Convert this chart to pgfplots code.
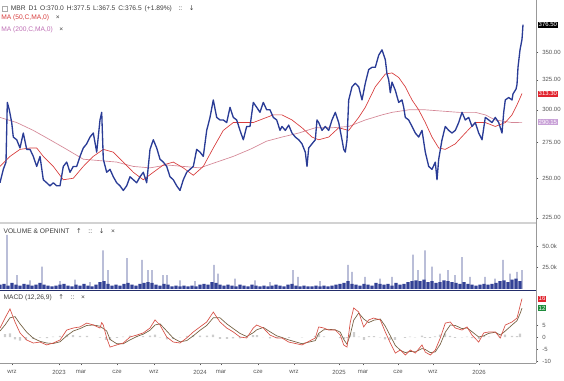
\documentclass[border=0pt]{standalone}
\usepackage{pgfplots}
\pgfplotsset{compat=1.18}
\usepackage{fontspec}
\setmainfont{Liberation Sans}
\newfontfamily\symfont{DejaVu Sans}
\definecolor{pblue}{RGB}{42,60,150}
\definecolor{ma50}{RGB}{215,60,60}
\definecolor{ma200}{RGB}{212,135,150}
\definecolor{ma200txt}{RGB}{190,110,180}
\definecolor{labgray}{RGB}{85,85,85}
\definecolor{hdgray}{RGB}{60,60,60}
\definecolor{sepgray}{RGB}{210,210,210}
\definecolor{volblue}{RGB}{50,65,150}
\definecolor{volspike}{RGB}{60,72,145}
\definecolor{macdred}{RGB}{215,80,70}
\definecolor{macdsig}{RGB}{115,95,65}
\definecolor{histgray}{RGB}{205,205,205}
\definecolor{boxpurple}{RGB}{200,160,215}
\definecolor{boxred}{RGB}{225,35,45}
\definecolor{boxgreen}{RGB}{30,140,60}
\newcommand\tk{\fontsize{4.5}{5}\selectfont}
\newcommand\hd{\fontsize{5}{6}\selectfont}
\pgfplotsset{
  panel/.style={scale only axis, width=402pt, xmin=0, xmax=536, clip=false,
    anchor=south west, axis line style={draw=none}, xtick=\empty,
    ytick pos=right, yticklabel pos=right, tick align=outside,
    major tick length=1.8pt, tick style={labgray, line width=0.35pt},
    yticklabel style={font=\tk, text=labgray, xshift=-0.6pt}},
}
\begin{document}
\begin{tikzpicture}[x=1pt,y=1pt]
\useasboundingbox (0,0) rectangle (423,285);
% ---------------- price panel
\begin{axis}[panel, at={(0pt,118.5pt)}, height=166.5pt, ymode=log, ymin=222.5, ymax=402,
  ytick={225,250,275,300,325,350}, yticklabels={225.00,250.00,275.00,300.00,325.00,350.00}]
\addplot[ma200, line width=0.5pt] table {
0 294
16.7 290
33.3 284
50 277
66.7 270
83.3 263
100 262
116.7 261
133.3 258
150 257
166.7 259
183.3 258
200 257
216.7 261
233.3 265
250 270
266.7 276
282 279
298.7 282
315.3 286
332 286
348.7 287
365.3 292
382 296
392 298
408.7 300
425.3 300
442 299
458.7 298
475.3 298
485.3 296
495.3 292
512 290
522 290.15
};
\addplot[ma50, line width=0.5pt] table {
0 258
10 265
20 270
30 271
36.7 271
43.3 265
53.3 258
63.3 249
73.3 250
83.3 258
93.3 265
103.3 270
113.3 268
123.3 261
133.3 254
143.3 249
153.3 254
163.3 259
173.3 261
183.3 257
193.3 252
203.3 258
213.3 271
223.3 284
233.3 290
243.3 290
253.3 290
263.3 293
273.3 296
282 296
292 292
302 286
312 279
318.7 277
328.7 279
338.7 286
348.7 284
358.7 294
365.3 302
375.3 319
385.3 330
392 331
398.7 327
405.3 319
412 308
418.7 300
425.3 290
432 279
438.7 271
445.3 270
455.3 274
465.3 282
475.3 290
485.3 290
495.3 287
505.3 290
512 296
517 304
522 313.3
};
\addplot[pblue, line width=1.0pt, line join=round] table {
0 247
3.3 256
6 261
7.3 306
9.3 300
11.7 290
13.3 279
16.7 277
20 271
23.3 282
26.7 270
30 270
33.3 265
36.7 258
40 265
43.3 249
46.7 247
50 245
53.3 247
56.7 245
60 245
63.3 258
66.7 261
70 254
73.3 258
76.7 258
80 265
83.3 271
86.7 274
90 279
93.3 282
96.7 268
100 292
101.7 298
103.3 263
106.7 254
110 256
113.3 251
116.7 247
120 245
123.3 242
126.7 245
130 251
133.3 249
136.7 247
140 251
143.3 254
146.7 247
150 270
153.3 277
156.7 271
160 263
163.3 261
166.7 258
170 251
173.3 249
176.7 245
180 242
183.3 249
186.7 254
190 256
193.3 258
196.7 270
200 268
203.3 265
206.7 284
210 294
213.3 308
216.7 294
220 292
223.3 292
226.7 290
230 302
233.3 294
236.7 292
240 284
243.3 277
246.7 287
250 287
253.3 306
256.7 302
260 298
263.3 306
266.7 300
270 300
273.3 294
276.7 292
280 284
282 287
285.3 284
288.7 288
292 282
295.3 279
298.7 277
302 274
305.3 268
307 258
308.7 271
312 274
315.3 277
317 292
318.7 290
322 284
325.3 287
328.7 284
332 292
335.3 298
338.7 290
342 277
343.7 270
345.3 268
347 277
348.7 308
352 319
355.3 322
358.7 319
362 308
365.3 322
368.7 334
372 336
375.3 336
378.7 347
382 352
385.3 343
387 330
388.7 325
390.3 314
392 323
395.3 316
398.7 306
402 308
403.7 302
405.3 294
408.7 292
412 287
415.3 282
418.7 279
422 284
425.3 268
428.7 258
432 256
435.3 261
437 249
438.7 263
442 277
445.3 287
448.7 284
452 282
455.3 284
458.7 290
462 298
465.3 292
468.7 294
472 287
475.3 290
478.7 282
482 277
485.3 294
488.7 292
492 290
495.3 294
498.7 290
502 282
503.7 298
505.3 308
508.7 310
512 308
513 313
516 317
517 321
518 336
520 352
522 362
523 376.5
};
\node[anchor=west, fill=black, text=white, font=\tk, inner sep=0.7pt] at (axis cs:537.5,376.5) {376.50};
\node[anchor=west, fill=boxred, text=white, font=\tk, inner sep=0.7pt] at (axis cs:537.5,313.3) {313.30};
\node[anchor=west, fill=boxpurple, text=white, font=\tk, inner sep=0.7pt] at (axis cs:537.5,290.15) {290.15};
\end{axis}
% ---------------- volume panel
\begin{axis}[panel, at={(0pt,67.5pt)}, height=51pt, ymin=-1.2, ymax=78,
  ytick={25,50}, yticklabels={25.0k,50.0k}]
\addplot[ybar, bar shift=0pt, bar width=2.4pt, fill=volblue, draw=none] table {
0 5
4 6
8 4
12 7
16 5
20 4
24 6
28 5
32 4
36 5
40 7
44 5
48 4
52 3
56 4
60 5
64 6
68 4
72 3
76 5
80 4
84 6
88 4
92 3
96 5
100 8
104 9
108 6
112 4
116 5
120 4
124 6
128 7
132 5
136 4
140 6
144 7
148 8
152 7
156 5
160 4
164 6
168 5
172 3
176 4
180 3
184 4
188 3
192 4
196 3
200 5
204 6
208 5
212 8
216 7
220 5
224 4
228 5
232 4
236 3
240 5
244 4
248 3
252 5
256 4
260 3
264 4
268 3
272 4
276 5
280 4
284 3
288 5
292 6
296 4
300 3
304 4
308 3
312 3
316 4
320 3
324 4
328 3
332 4
336 5
340 6
344 7
348 9
352 6
356 5
360 4
364 6
368 5
372 4
376 7
380 6
384 5
388 6
392 4
396 7
400 5
404 6
408 8
412 9
416 10
420 9
424 11
428 8
432 9
436 7
440 8
444 10
448 9
452 8
456 7
460 6
464 8
468 6
472 5
476 4
480 5
484 6
488 5
492 6
496 7
500 9
504 10
508 8
512 11
516 12
520 9
};
\addplot[ybar, bar shift=0pt, bar width=0.6pt, fill=volspike, draw=none] table {
7 63
17 16
30 10
42 26
60 9
75 11
90 8
103 45
108 22
127 36
142 34
148 22
152 22
163 16
167 16
180 10
195 9
214 28
218 18
235 12
255 10
270 8
293 22
298 14
320 9
348 28
352 20
365 14
380 12
392 14
413 40
418 22
425 45
432 26
440 18
448 22
455 16
462 37
470 14
485 14
495 12
503 34
510 18
517 20
522 22
};
\end{axis}
% ---------------- MACD panel
\begin{axis}[panel, at={(0pt,12.75pt)}, height=54.75pt, ymin=-10.83, ymax=19.58,
  ytick={-10,-5,0,5}, yticklabels={-10,-5,0,5},
  xtick={12,59,81,117,154,200,221,258,294,339,363,398,433,479},
  xticklabels={wrz,2023,mar,cze,wrz,2024,mar,cze,wrz,2025,mar,cze,wrz,2026},
  xtick pos=bottom, xticklabel style={font=\tk, text=labgray, yshift=0pt}]
\addplot[ybar, bar shift=0pt, bar width=1.6pt, fill=histgray, draw=none] table {
5 1.2
10 1.5
15 -1
20 -1.5
26 -1.2
33 -0.8
40 -0.3
47 -0.5
53 0.2
60 0.5
67 1.0
73 0.8
80 0.5
87 0.5
100 -0.3
106 -1.2
110 -1.3
117 -0.4
123 0.2
130 0.6
137 0.5
143 0.4
150 0.6
155 1.0
160 -0.2
167 -1.0
173 -0.8
180 -0.2
187 0.5
193 0.7
200 0.6
207 0.6
213 1.0
220 -0.8
227 -0.8
233 -0.6
240 -0.6
247 -0.3
253 0.8
257 0.8
263 -0.1
270 -0.6
277 -0.4
289 -0.4
302 -0.2
315 0.5
319 1.2
324 0.3
340 -0.5
344 -1.0
347 -0.5
350 1.2
354 2.0
359 0.2
364 -1.2
369 0.4
374 0.4
380 -0.2
385 -1.0
390 -1.2
395 -1.2
405 -0.4
410 0.2
415 -0.2
422 0.6
425 -0.4
430 -0.4
435 0.3
440 1.0
445 1.5
450 0.5
455 -0.4
462 -0.2
467 0.2
472 -0.5
479 -0.8
484 0.5
489 0.2
500 -0.5
505 1.0
512 0.5
517 0.4
520 1.4
};
\addplot[macdsig, line width=0.5pt] table {
0 2.5
5 5.0
10 8.0
15 8.5
20 5.5
26.7 2.0
33.3 -0.5
40 -1.8
46.7 -2.5
53.3 -2.7
60 -2.0
66.7 0.5
73.3 2.5
80 3.5
86.7 4.8
93.3 5.0
100 4.5
106.7 2.5
110 -1.0
116.7 -2.8
123.3 -2.8
130 -1.2
136.7 0.2
143.3 1.2
150 2.8
155 5.0
160 5.5
166.7 2.5
173.3 -0.5
180 -2.0
186.7 -1.5
193.3 0.5
200 2.8
206.7 4.8
213.3 8.0
220 8.0
226.7 5.5
233.3 3.5
240 1.5
246.7 0.2
253.3 1.8
256.7 3.0
263.3 4.0
270 2.2
276.7 0.5
282 -0.2
288.7 -1.2
302 -2.8
315.3 -1.5
318.7 1.5
323.7 3.0
328.7 3.2
335.3 3.0
340.3 2.0
343.7 -1.0
347 -3.0
350.3 1.0
353.7 7.0
358.7 10.0
363.7 7.5
368.7 6.0
373.7 7.0
380.3 7.5
385.3 4.5
390.3 0.5
395.3 -3.5
400.3 -5.5
405.3 -6.5
410.3 -6.0
415.3 -6.2
422 -4.8
425.3 -5.2
430.3 -6.5
435.3 -6.2
440.3 -3.0
445.3 2.0
450.3 5.0
455.3 4.8
462 3.5
467 3.8
472 2.2
478.7 0.0
483.7 0.5
488.7 1.5
495.3 2.0
500.3 0.8
505.3 2.5
512 5.0
517 6.8
520.3 10.0
522 12
};
\addplot[macdred, line width=0.5pt] table {
0 3.75
5 7.9
10 11.7
15 6.25
20 1.7
26.7 -1.25
33.3 -2.5
40 -2.1
46.7 -3.3
53.3 -2.5
60 -1.25
66.7 2.9
73.3 3.75
80 4.2
86.7 5.8
93.3 5.0
100 3.75
101.7 6.0
103.3 5.0
106.7 -0.4
110 -4.2
116.7 -3.3
123.3 -2.5
130 0
136.7 0.8
143.3 1.7
150 3.75
155 7.1
160 5.0
166.7 0
173.3 -2.1
180 -2.5
186.7 -0.4
193.3 2.1
200 4.2
206.7 6.25
213.3 10.4
220 6.25
226.7 3.75
233.3 2.1
240 0
246.7 -0.4
253.3 3.75
256.7 5.0
263.3 3.75
270 0.8
276.7 -0.4
282 -0.4
288.7 -2.1
302 -3.3
315.3 -0.4
318.7 4.2
323.7 3.75
328.7 2.9
335.3 2.9
340.3 0.8
343.7 -3.3
347 -4.2
350.3 6.25
353.7 12.1
358.7 10.4
363.7 4.2
368.7 7.1
373.7 7.9
380.3 7.1
385.3 2.1
390.3 -2.5
395.3 -6.7
400.3 -5.4
405.3 -7.5
410.3 -5.4
415.3 -6.7
422 -3.3
425.3 -6.3
430.3 -7.5
435.3 -5.4
440.3 -0.4
445.3 5.8
450.3 6.25
455.3 3.75
462 2.9
467 4.2
472 0.8
478.7 -2.1
483.7 1.7
488.7 2.1
495.3 2.1
500.3 -0.4
505.3 5.0
512 6.25
517 7.9
520.3 13.3
522 16
};
\node[anchor=west, fill=boxred, text=white, font=\tk, inner sep=0.7pt] at (axis cs:537.5,16) {16};
\node[anchor=west, fill=boxgreen, text=white, font=\tk, inner sep=0.7pt] at (axis cs:537.5,12) {12};
\end{axis}
% ---------------- frame lines
\draw[sepgray, line width=1.3pt] (0,117.75) -- (402,117.75);
\draw[volblue!70!black, line width=0.5pt] (0,67.4) -- (402,67.4);
\draw[labgray!60, line width=0.5pt] (0,12.75) -- (402,12.75);
\draw[labgray!60, line width=0.5pt] (402,12.75) -- (402,285);
% ---------------- header texts
\draw[labgray!50, line width=0.3pt] (1.5,276.5) rectangle (5.5,280.5);
\node[anchor=west, inner sep=0pt, font=\hd, text=hdgray] at (8,278.5)
  {MBR\, D1\, O:370.0\, H:377.5\, L:367.5\, C:376.5\, (+1.89\%)\quad ::\quad{\symfont ↓}};
\node[anchor=west, inner sep=0pt, font=\hd, text=ma50] at (0.8,271.3) {MA (50,C,MA,0)\quad{\color{hdgray}×}};
\node[anchor=west, inner sep=0pt, font=\hd, text=ma200txt] at (0.8,263.0) {MA (200,C,MA,0)\quad{\color{hdgray}×}};
\node[anchor=west, inner sep=0pt, font=\hd, text=hdgray] at (2.5,111.5) {VOLUME \& OPENINT\quad{\symfont ↑}\quad ::\quad{\symfont ↓}\quad ×};
\node[anchor=west, inner sep=0pt, font=\hd, text=hdgray] at (2.5,61.5) {MACD (12,26,9)\quad{\symfont ↑}\quad ::\quad ×};
\end{tikzpicture}
\end{document}
